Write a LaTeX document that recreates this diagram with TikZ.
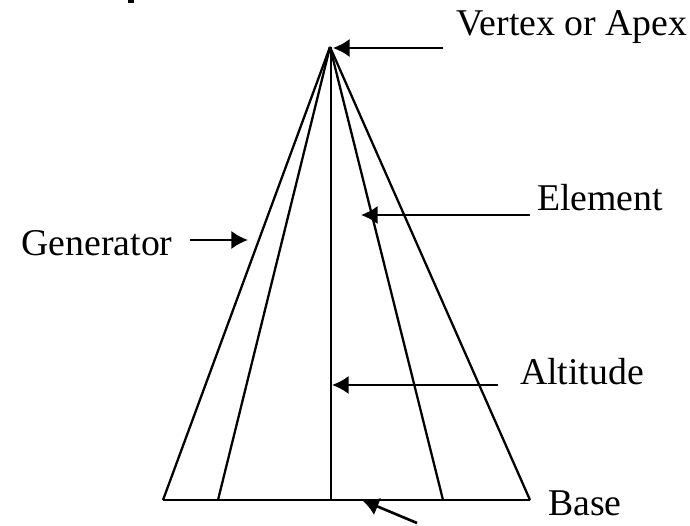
\documentclass[tikz,border=0pt]{standalone}
\usepackage{fontspec}
\setmainfont{Liberation Serif}
\usetikzlibrary{arrows.meta}
\tikzset{
	label/.style={inner sep=0pt,font=\fontsize{21.5}{25}\selectfont},
	edge/.style={line width=1.3pt},
	pointer/.style={line width=1.5pt,-{Latex[length=9.5pt,width=10.5pt]}}
}
\begin{document}
\begin{tikzpicture}
			\useasboundingbox (0,0) rectangle (13.8,10.5);
			\fill[white] (0,0) rectangle (13.8,10.5);
			\coordinate (apex) at (6.60,9.56);
			\coordinate (baseA) at (3.26,0.5);
			\coordinate (baseB) at (4.36,0.5);
			\coordinate (baseC) at (6.62,0.5);
			\coordinate (baseD) at (8.86,0.5);
			\coordinate (baseE) at (10.60,0.5);
			\foreach \p in {baseA,baseB,baseD,baseE}{
				\draw[edge] (apex) -- (\p);
			}
			\draw[line width=1.6pt] (6.62,9.56) -- (baseC);
			\draw[line width=1.7pt] (baseA) -- (baseE);
			\node[label] (vertex) at (11.44,9.96) {Vertex or Apex};
			\node[label] (element) at (12.0,6.54) {Element};
			\node[label] (altitude) at (11.64,3.06) {Altitude};
			\node[label] (generator) at (1.94,5.64) {Generator};
			\node[label] (base) at (11.7,0.44) {Base};
			\coordinate (vertexS) at (8.86,9.54);
			\coordinate (vertexE) at (6.66,9.54);
			\coordinate (elementS) at (10.6,6.2);
			\coordinate (elementE) at (7.22,6.2);
			\coordinate (altitudeS) at (9.96,2.8);
			\coordinate (altitudeE) at (6.64,2.8);
			\coordinate (generatorS) at (3.8,5.7);
			\coordinate (generatorE) at (4.96,5.7);
			\coordinate (baseS) at (8.34,0.04);
			\coordinate (baseT) at (7.24,0.5);
			\draw[pointer] (vertexS) -- (vertexE);
			\draw[pointer] (elementS) -- (elementE);
			\draw[pointer] (altitudeS) -- (altitudeE);
			\draw[pointer] (generatorS) -- (generatorE);
			\draw[pointer] (baseS) -- (baseT);
			\fill (2.56,10.44) rectangle (2.68,10.5);
		\end{tikzpicture}
\end{document}
